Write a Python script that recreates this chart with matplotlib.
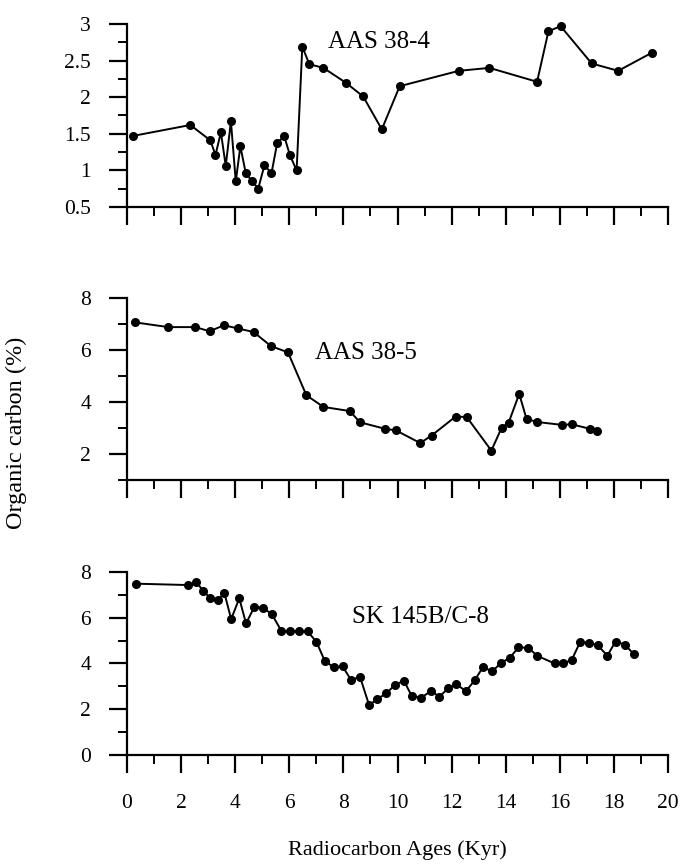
import matplotlib
matplotlib.use('Agg')
import matplotlib.pyplot as plt
from matplotlib.ticker import MultipleLocator, FormatStrFormatter

# AAS 38-4
age_384 = [0.21, 2.34, 3.08, 3.27, 3.47, 3.65, 3.84, 4.02, 4.19, 4.39, 4.61, 4.85,
           5.08, 5.34, 5.55, 5.81, 6.02, 6.27, 6.48, 6.74, 7.26, 8.08, 8.73, 9.42,
           10.08, 12.27, 13.40, 15.16, 15.58, 16.03, 17.18, 18.16, 19.42]
oc_384 = [1.47, 1.62, 1.41, 1.21, 1.52, 1.06, 1.67, 0.85, 1.33, 0.96, 0.86, 0.75,
          1.07, 0.96, 1.37, 1.47, 1.21, 1.00, 2.69, 2.45, 2.40, 2.20, 2.01, 1.56,
          2.15, 2.36, 2.40, 2.21, 2.90, 2.97, 2.46, 2.36, 2.61]

# AAS 38-5
age_385 = [0.31, 1.53, 2.53, 3.05, 3.58, 4.10, 4.68, 5.32, 5.95, 6.63, 7.26, 8.24,
           8.61, 9.53, 9.94, 10.84, 11.26, 12.15, 12.56, 13.47, 13.85, 14.11, 14.50,
           14.77, 15.16, 16.08, 16.45, 17.11, 17.39]
oc_385 = [7.06, 6.88, 6.88, 6.72, 6.95, 6.83, 6.69, 6.15, 5.91, 4.26, 3.81, 3.65,
          3.22, 2.97, 2.91, 2.42, 2.71, 3.44, 3.42, 2.13, 3.01, 3.21, 4.31,
          3.35, 3.23, 3.12, 3.14, 2.97, 2.88]

# SK 145B/C-8
age_sk = [0.34, 2.27, 2.56, 2.82, 3.08, 3.35, 3.60, 3.85, 4.15, 4.40, 4.71, 5.02,
          5.35, 5.71, 6.02, 6.35, 6.68, 7.00, 7.32, 7.65, 7.97, 8.29, 8.61, 8.95,
          9.26, 9.58, 9.92, 10.24, 10.53, 10.87, 11.24, 11.55, 11.87, 12.18, 12.53,
          12.85, 13.16, 13.50, 13.82, 14.16, 14.47, 14.84, 15.16, 15.81, 16.11,
          16.44, 16.76, 17.08, 17.40, 17.76, 18.06, 18.40, 18.73]
oc_sk = [7.49, 7.43, 7.55, 7.18, 6.85, 6.77, 7.08, 5.94, 6.85, 5.75, 6.48, 6.44,
         6.16, 5.42, 5.40, 5.40, 5.40, 4.95, 4.09, 3.84, 3.87, 3.27, 3.43, 2.18,
         2.45, 2.69, 3.08, 3.24, 2.57, 2.50, 2.80, 2.55, 2.91, 3.09, 2.79,
         3.26, 3.84, 3.66, 4.01, 4.26, 4.70, 4.69, 4.34, 4.00, 4.00,
         4.15, 4.96, 4.89, 4.80, 4.34, 4.96, 4.83, 4.42]

serif = 'Liberation Serif'
fs = 15.5

fig = plt.figure(figsize=(6.83, 8.65), dpi=100)

# [left, bottom, width, height] in figure fraction
boxes = [[0.186, 0.7607, 0.792, 0.2116],
         [0.186, 0.4451, 0.792, 0.2104],
         [0.186, 0.1272, 0.792, 0.2115]]

panels = [
    (age_384, oc_384, 'AAS 38-4', (0.5, 3), 0.5, 0.25, (9.3, 2.75)),
    (age_385, oc_385, 'AAS 38-5', (1, 8), 2, 1, (8.85, 5.9)),
    (age_sk, oc_sk, 'SK 145B/C-8', (0, 8), 2, 1, (10.85, 6.05)),
]

for k, (x, y, name, ylim, ymaj, ymin, txt) in enumerate(panels):
    ax = fig.add_axes(boxes[k])
    ax.plot(x, y, '-o', color='black', lw=1.4, ms=5.5, clip_on=False)
    ax.set_xlim(0, 20)
    ax.set_ylim(*ylim)
    ax.spines['top'].set_visible(False)
    ax.spines['right'].set_visible(False)
    ax.spines['left'].set_linewidth(1.6)
    ax.spines['bottom'].set_linewidth(1.6)
    ax.xaxis.set_major_locator(MultipleLocator(2))
    ax.xaxis.set_minor_locator(MultipleLocator(1))
    ax.yaxis.set_major_locator(MultipleLocator(ymaj))
    ax.yaxis.set_minor_locator(MultipleLocator(ymin))
    ax.yaxis.set_major_formatter(FormatStrFormatter('%g'))
    ax.tick_params(which='major', direction='out', length=13, width=1.6, pad=13)
    ax.tick_params(which='minor', direction='out', length=6.5, width=1.4)
    ax.tick_params(axis='x', which='major', pad=15)
    for lab in ax.get_yticklabels() + ax.get_xticklabels():
        lab.set_fontfamily(serif)
        lab.set_fontsize(fs)
    if k < 2:
        ax.tick_params(axis='x', labelbottom=False)
    else:
        ax.set_xlabel('Radiocarbon Ages (Kyr)', fontfamily=serif, fontsize=fs + 0.5, labelpad=20)
    ax.text(txt[0], txt[1], name, fontfamily=serif, fontsize=18,
            ha='center', va='center')

fig.text(0.024, 0.50, 'Organic carbon (%)', rotation=90, fontfamily=serif,
         fontsize=17.5, ha='center', va='center')

fig.savefig('out.png', dpi=100)
